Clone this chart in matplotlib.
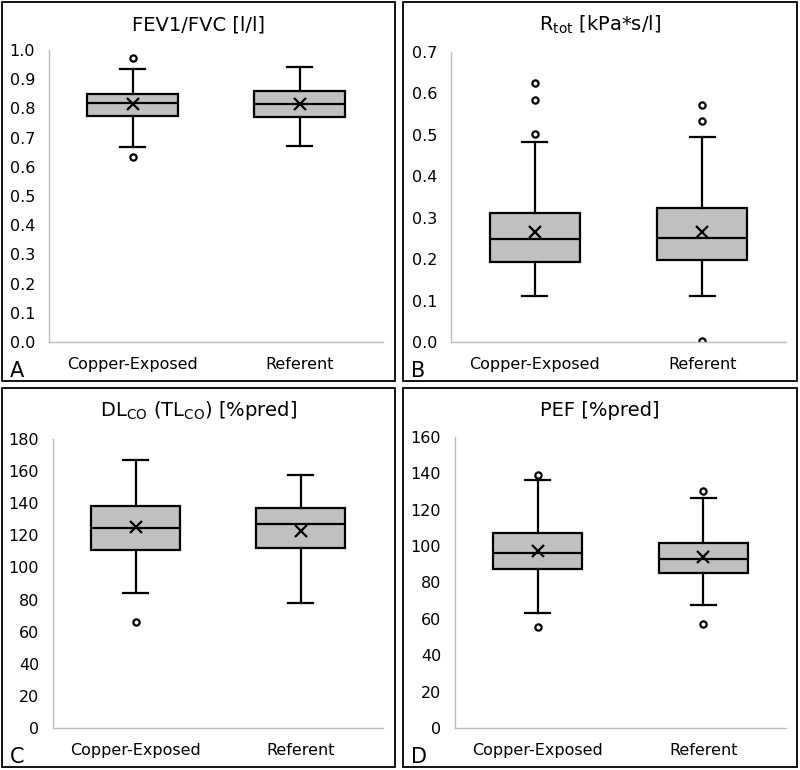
import matplotlib.pyplot as plt
from matplotlib.patches import Rectangle

groups = ['Copper-Exposed', 'Referent']

# per panel: [copper, referent] each as (whislo, q1, med, q3, whishi, mean)
fev_stats = [(0.667, 0.775, 0.819, 0.849, 0.935, 0.814),
             (0.670, 0.771, 0.814, 0.860, 0.941, 0.814)]
fev_fliers = [[0.971, 0.635], []]

rtot_stats = [(0.112, 0.193, 0.249, 0.312, 0.482, 0.266),
              (0.112, 0.198, 0.251, 0.323, 0.494, 0.266)]
rtot_fliers = [[0.624, 0.583, 0.503], [0.573, 0.534, 0.002]]

dlco_stats = [(84.0, 110.6, 124.7, 138.2, 166.8, 125.1),
              (77.6, 111.8, 126.8, 136.9, 157.5, 123.0)]
dlco_fliers = [[66.0], []]

pef_stats = [(63.4, 87.6, 96.4, 107.0, 136.5, 97.1),
             (67.4, 85.0, 92.7, 101.9, 126.5, 93.8)]
pef_fliers = [[138.9, 55.4], [130.5, 57.2]]

panels = [
    ('A', 'FEV1/FVC [l/l]', fev_stats, fev_fliers, (0, 1.0), 0.1, '%.1f'),
    ('B', r'R$_{\mathregular{tot}}$ [kPa*s/l]', rtot_stats, rtot_fliers, (0, 0.7), 0.1, '%.1f'),
    ('C', r'DL$_{\mathregular{CO}}$ (TL$_{\mathregular{CO}}$) [%pred]', dlco_stats, dlco_fliers, (0, 180), 20, '%d'),
    ('D', 'PEF [%pred]', pef_stats, pef_fliers, (0, 160), 20, '%d'),
]

W, H = 800, 770
fig = plt.figure(figsize=(8, 7.7), dpi=100)
plt.rcParams['font.family'] = ['DejaVu Sans']

# panel frames in pixels: (left, top, right, bottom)
frames = [(2, 2, 395, 381), (403, 2, 797, 381), (2, 388, 395, 767), (403, 388, 797, 767)]
# axes in pixels: (left, top, right, bottom)
axboxes = [(49, 50, 383, 342), (451, 52, 786, 342), (53, 439, 383, 728), (455, 437, 786, 728)]

for (label, title, stats, fliers, ylim, step, fmt), fr, ab in zip(panels, frames, axboxes):
    fig.patches.append(Rectangle((fr[0] / W, 1 - fr[3] / H), (fr[2] - fr[0]) / W, (fr[3] - fr[1]) / H,
                                 transform=fig.transFigure, fill=False, edgecolor='black', lw=1.3))
    ax = fig.add_axes([ab[0] / W, 1 - ab[3] / H, (ab[2] - ab[0]) / W, (ab[3] - ab[1]) / H])
    bstats = []
    for s, f in zip(stats, fliers):
        bstats.append(dict(whislo=s[0], q1=s[1], med=s[2], q3=s[3], whishi=s[4], mean=s[5], fliers=f))
    ax.bxp(bstats, positions=[0, 1], widths=0.54, capwidths=0.15, showmeans=True, patch_artist=True,
           boxprops=dict(facecolor='#c0c0c0', edgecolor='black', lw=1.6),
           medianprops=dict(color='black', lw=1.6),
           whiskerprops=dict(color='black', lw=1.6),
           capprops=dict(color='black', lw=1.6),
           meanprops=dict(marker='x', markeredgecolor='black', markersize=9, markeredgewidth=1.6),
           flierprops=dict(marker='o', markerfacecolor='white', markeredgecolor='black',
                           markersize=4.5, markeredgewidth=1.6))
    ax.set_xlim(-0.5, 1.5)
    ax.set_ylim(*ylim)
    n = int(round(ylim[1] / step))
    ticks = [i * step for i in range(n + 1)]
    ax.set_yticks(ticks)
    ax.set_yticklabels([fmt % t for t in ticks])
    ax.set_xticks([0, 1])
    ax.set_xticklabels(groups)
    ax.tick_params(length=0, labelsize=11.5, colors='black')
    ax.tick_params(axis='y', pad=10)
    ax.tick_params(axis='x', pad=11)
    for sp in ['top', 'right']:
        ax.spines[sp].set_visible(False)
    for sp in ['left', 'bottom']:
        ax.spines[sp].set_color('#bdbdbd')
        ax.spines[sp].set_linewidth(1.0)
    ax.patch.set_alpha(0)
    fig.text((fr[0] + fr[2]) / 2 / W, 1 - (fr[1] + 23) / H, title, fontsize=14, ha='center', va='center')
    fig.text((fr[0] + 8) / W, 1 - (fr[3] - 0) / H, label, fontsize=15, ha='left', va='bottom')

fig.savefig('out.png', dpi=100)
